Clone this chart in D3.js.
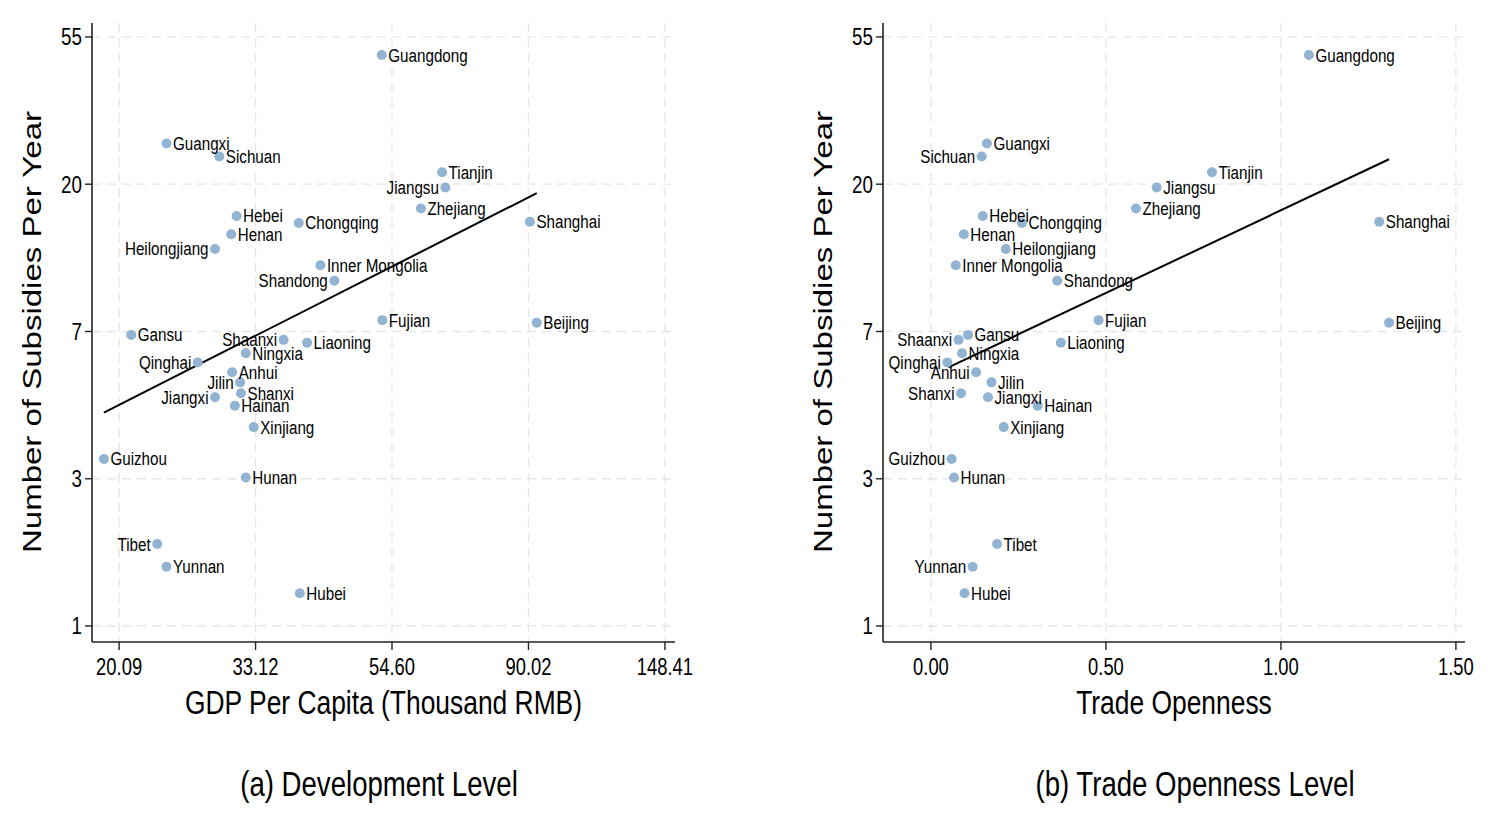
<!DOCTYPE html>
<html>
<head>
<meta charset="utf-8">
<script src="https://cdn.jsdelivr.net/npm/d3@7"></script>
<style>
    body { margin: 0; background: #fff; }
    svg text { font-family: "Liberation Sans", Arial, Helvetica, sans-serif; fill: #000; }
</style>
</head>
<body>
<div id="chart"></div>
<script>

// provinces, values
const provinces = ["Guangdong", "Guangxi", "Sichuan", "Tianjin", "Jiangsu", "Zhejiang", "Hebei", "Shanghai",
    "Chongqing", "Henan", "Heilongjiang", "Inner Mongolia", "Shandong", "Fujian", "Beijing", "Gansu",
    "Shaanxi", "Liaoning", "Ningxia", "Qinghai", "Anhui", "Jilin", "Shanxi", "Jiangxi", "Hainan",
    "Xinjiang", "Guizhou", "Hunan", "Tibet", "Yunnan", "Hubei"];

const subsidies = [48.3, 26.5, 24.25, 21.8, 19.65, 17.04, 16.19, 15.56,
    15.44, 14.30, 12.94, 11.58, 10.43, 7.98, 7.84, 7.22,
    6.98, 6.85, 6.37, 5.99, 5.60, 5.23, 4.86, 4.73, 4.46,
    3.86, 3.11, 2.74, 1.745, 1.496, 1.249];

const gdpPerCapita = [52.6, 23.9, 29.0, 65.6, 66.4, 60.7, 30.9, 90.5,
    38.8, 30.3, 28.55, 42.0, 44.2, 52.7, 92.8, 21.0,
    36.7, 40.0, 31.95, 26.8, 30.4, 31.3, 31.4, 28.55, 30.7,
    32.9, 19.0, 31.95, 23.1, 23.9, 38.95];

const tradeOpenness = [1.080, 0.160, 0.145, 0.803, 0.645, 0.586, 0.148, 1.281,
    0.260, 0.094, 0.214, 0.071, 0.361, 0.479, 1.309, 0.106,
    0.079, 0.371, 0.089, 0.047, 0.129, 0.173, 0.086, 0.163, 0.305,
    0.208, 0.059, 0.066, 0.189, 0.119, 0.096];

// labels that sit on the left side of their marker
const gdpLabelLeft = ["Jiangsu", "Heilongjiang", "Shandong", "Qinghai", "Shaanxi", "Jilin", "Jiangxi", "Tibet"];
const tradeLabelLeft = ["Sichuan", "Shaanxi", "Qinghai", "Anhui", "Shanxi", "Guizhou", "Yunnan"];

// fitted lines (start, end)
const gdpFitX = [19.0, 92.8];
const gdpFitY = [4.26, 18.9];
const tradeFitX = [0.05, 1.309];
const tradeFitY = [5.79, 23.8];

// ticks
const subsidyTicks = [1, 2.718, 7.389, 20.09, 54.6];
const subsidyTickLabels = ["1", "3", "7", "20", "55"];
const gdpTicks = [20.09, 33.12, 54.60, 90.02, 148.41];
const gdpTickLabels = ["20.09", "33.12", "54.60", "90.02", "148.41"];
const tradeTicks = [0, 0.5, 1, 1.5];
const tradeTickLabels = ["0.00", "0.50", "1.00", "1.50"];

const width = 1492, height = 820;
const squeeze = 0.8;   // glyphs in the picture are narrow

let svg = d3.select("#chart").append("svg")
    .attr("width", width)
    .attr("height", height);

// text helper: squeezes glyphs horizontally around the anchor point
function addText(g, x, y, str, size, anchor, rotate) {
    return g.append("text")
        .attr("transform", `translate(${x},${y}) scale(${squeeze},1)` + (rotate ? ` rotate(${rotate})` : ""))
        .attr("text-anchor", anchor)
        .style("font-size", size + "px")
        .text(str);
}

function drawPanel(cfg) {
    let g = svg.append("g");

    let y = d3.scaleLog()
        .domain([0.897, 60.03])
        .range([642, 23]);

    let x = cfg.x;
    let [x0, x1] = x.range();

    // grid
    g.selectAll(".hgrid").data(subsidyTicks).enter().append("line")
        .attr("x1", x0).attr("x2", x1)
        .attr("y1", d => y(d)).attr("y2", d => y(d))
        .attr("stroke", "#e6e6e6").attr("stroke-width", 1.3)
        .attr("stroke-dasharray", "9,6");

    g.selectAll(".vgrid").data(cfg.ticks).enter().append("line")
        .attr("x1", d => x(d)).attr("x2", d => x(d))
        .attr("y1", 23).attr("y2", 642)
        .attr("stroke", "#e6e6e6").attr("stroke-width", 1.3)
        .attr("stroke-dasharray", "9,6");

    // axes lines and tick marks
    g.append("line").attr("x1", x0).attr("x2", x0).attr("y1", 23).attr("y2", 642)
        .attr("stroke", "#222").attr("stroke-width", 1.6);
    g.append("line").attr("x1", x0).attr("x2", x1).attr("y1", 642).attr("y2", 642)
        .attr("stroke", "#222").attr("stroke-width", 1.6);

    subsidyTicks.forEach((t, i) => {
        g.append("line").attr("x1", x0 - 7).attr("x2", x0).attr("y1", y(t)).attr("y2", y(t))
            .attr("stroke", "#222").attr("stroke-width", 1.4);
        addText(g, x0 - 10, y(t) + 8.5, subsidyTickLabels[i], 23.5, "end");
    });

    cfg.ticks.forEach((t, i) => {
        g.append("line").attr("x1", x(t)).attr("x2", x(t)).attr("y1", 642).attr("y2", 650)
            .attr("stroke", "#222").attr("stroke-width", 1.4);
        addText(g, x(t), 675, cfg.tickLabels[i], 23, "middle");
    });

    // fit line
    g.append("line")
        .attr("x1", x(cfg.fitX[0])).attr("y1", y(cfg.fitY[0]))
        .attr("x2", x(cfg.fitX[1])).attr("y2", y(cfg.fitY[1]))
        .attr("stroke", "#000").attr("stroke-width", 2);

    // points
    let pts = provinces.map((p, i) => ({name: p, xv: cfg.values[i], yv: subsidies[i]}));

    g.selectAll(".dot").data(pts).enter().append("circle")
        .attr("cx", d => x(d.xv))
        .attr("cy", d => y(d.yv))
        .attr("r", 5)
        .attr("fill", "#92b3d1");

    pts.forEach(d => {
        let left = cfg.leftLabels.includes(d.name);
        addText(g, x(d.xv) + (left ? -6.5 : 6.5), y(d.yv) + 6.5, d.name, 19, left ? "end" : "start");
    });

    // titles
    addText(g, cfg.yTitleX, 332, "Number of Subsidies Per Year", 33, "middle", -90);
    addText(g, (x0 + x1) / 2, 714, cfg.xTitle, 33, "middle");
    addText(g, cfg.captionX, 796, cfg.caption, 34.5, "middle");
}

drawPanel({
    x: d3.scaleLog().domain([18.19, 154.0]).range([92, 675]),
    values: gdpPerCapita,
    ticks: gdpTicks,
    tickLabels: gdpTickLabels,
    fitX: gdpFitX,
    fitY: gdpFitY,
    leftLabels: gdpLabelLeft,
    yTitleX: 41,
    xTitle: "GDP Per Capita (Thousand RMB)",
    caption: "(a) Development Level",
    captionX: 379
});

drawPanel({
    x: d3.scaleLinear().domain([-0.137, 1.526]).range([883, 1465]),
    values: tradeOpenness,
    ticks: tradeTicks,
    tickLabels: tradeTickLabels,
    fitX: tradeFitX,
    fitY: tradeFitY,
    leftLabels: tradeLabelLeft,
    yTitleX: 832,
    xTitle: "Trade Openness",
    caption: "(b) Trade Openness Level",
    captionX: 1195
});

</script>
</body>
</html>
